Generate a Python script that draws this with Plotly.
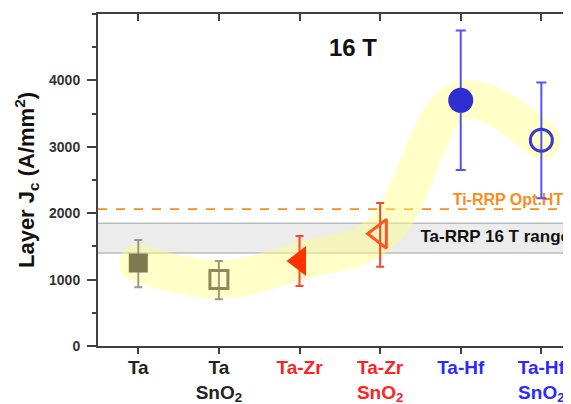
import plotly.graph_objects as go

# ---- data ----
categories = ["Ta", "Ta\nSnO2", "Ta-Zr", "Ta-Zr\nSnO2", "Ta-Hf", "Ta-Hf\nSnO2"]
tick_labels = ["Ta", "Ta<br>SnO<sub>2</sub>", "Ta-Zr", "Ta-Zr<br>SnO<sub>2</sub>",
               "Ta-Hf", "Ta-Hf<br>SnO<sub>2</sub>"]
label_colors = ["#222222", "#222222", "#ff2222", "#ff2222", "#2a2aff", "#2a2aff"]
jc_values = [1250, 1000, 1280, 1690, 3700, 3100]
err_plus = [345, 280, 375, 465, 1050, 870]
err_minus = [365, 295, 375, 495, 1050, 875]
ti_rrp_opt_ht = 2060
ta_rrp_range = [1400, 1850]
y_ticks = [0, 1000, 2000, 3000, 4000]

symbols = ["square", "square-open", "triangle-left", "triangle-left-open",
           "circle", "circle-open"]
marker_colors = ["#7b7b4f", "#8a8a5a", "#ff3300", "#ff5522", "#2f2fd0", "#3a3ad0"]
err_colors = ["#9a9a80", "#9a9a80", "#ff4422", "#ff4422", "#5252ff", "#5252ff"]
cap_widths = [4, 4, 4, 4, 5, 5]
marker_sizes = [19, 18, 26, 25, 25, 22]

FONT = "Liberation Sans, Arial, sans-serif"
AX = "#404040"
xpos = list(range(1, len(categories) + 1))

fig = go.Figure()

# yellow highlight band through the points
fig.add_trace(go.Scatter(
    x=xpos, y=jc_values, mode="lines+markers",
    line=dict(color="#ffff82", width=38, shape="spline", smoothing=1.1),
    marker=dict(color="#ffff82", size=38),
    opacity=0.44, hoverinfo="skip", showlegend=False))

# reference line labels (drawn beneath the points/error bars)
fig.add_trace(go.Scatter(
    x=[4.9], y=[ti_rrp_opt_ht + 120], mode="text", text=["Ti-RRP Opt.HT"],
    textposition="middle right",
    textfont=dict(family=FONT, size=16, color="#ff8c1a", weight="bold"),
    hoverinfo="skip", showlegend=False))
fig.add_trace(go.Scatter(
    x=[4.5], y=[sum(ta_rrp_range) / 2], mode="text", text=["Ta-RRP 16 T range"],
    textposition="middle right",
    textfont=dict(family=FONT, size=17, color="#111111", weight="bold"),
    hoverinfo="skip", showlegend=False))

for i in range(len(categories)):
    open_m = symbols[i].endswith("open")
    fig.add_trace(go.Scatter(
        x=[xpos[i]], y=[jc_values[i]], mode="markers",
        error_y=dict(type="data", symmetric=False, array=[err_plus[i]],
                     arrayminus=[err_minus[i]], color=err_colors[i],
                     thickness=2, width=cap_widths[i]),
        marker=dict(symbol=symbols[i], size=marker_sizes[i],
                    color=marker_colors[i],
                    line=dict(color=marker_colors[i], width=3 if open_m else 0)),
        showlegend=False, hoverinfo="skip"))

# dummy trace for top axis
fig.add_trace(go.Scatter(x=[1], y=[0], xaxis="x2", mode="markers",
                         marker=dict(opacity=0), hoverinfo="skip", showlegend=False))

shapes = [
    dict(type="rect", xref="paper", x0=0, x1=1, yref="y",
         y0=ta_rrp_range[0], y1=ta_rrp_range[1],
         fillcolor="#ececec", line=dict(width=0), layer="below"),
    dict(type="line", xref="paper", x0=0, x1=1, yref="y",
         y0=ta_rrp_range[0], y1=ta_rrp_range[0],
         line=dict(color="#bdbdbd", width=1.5), layer="below"),
    dict(type="line", xref="paper", x0=0, x1=1, yref="y",
         y0=ta_rrp_range[1], y1=ta_rrp_range[1],
         line=dict(color="#bdbdbd", width=1.5), layer="below"),
    dict(type="line", xref="paper", x0=0, x1=1, yref="y",
         y0=ti_rrp_opt_ht, y1=ti_rrp_opt_ht,
         line=dict(color="#ff8c1a", width=1.8, dash="dash"), layer="below"),
]

ticktext = [f"<span style='color:{c}'>{t}</span>" for t, c in zip(tick_labels, label_colors)]

fig.update_layout(
    width=563, height=396,
    margin=dict(l=90, r=0, t=6, b=58, pad=0, autoexpand=False),
    paper_bgcolor="white", plot_bgcolor="white",
    font=dict(family=FONT, color="#222222"),
    shapes=shapes,
    annotations=[dict(x=3.66, y=4500, xref="x", yref="y", text="16 T",
                      showarrow=False,
                      font=dict(family=FONT, size=24, color="#111111", weight="bold"))],
    xaxis=dict(range=[0.5, 6.368], tickvals=xpos, ticktext=ticktext,
               ticks="outside", ticklen=6, tickwidth=2, tickcolor=AX,
               showline=True, linewidth=2, linecolor=AX,
               showgrid=False, zeroline=False, automargin=False,
               ticklabelstandoff=-3,
               tickfont=dict(family=FONT, size=19, weight="bold")),
    xaxis2=dict(range=[0.5, 6.368], overlaying="x", side="top",
                tickvals=xpos, showticklabels=False,
                ticks="inside", ticklen=7, tickwidth=2, tickcolor=AX,
                showline=True, linewidth=2, linecolor=AX,
                showgrid=False, zeroline=False, automargin=False),
    yaxis=dict(range=[0, 5000], tickvals=y_ticks,
               ticks="outside", ticklen=9, tickwidth=2, tickcolor=AX,
               minor=dict(dtick=500, ticks="outside", ticklen=4, tickwidth=2, tickcolor=AX),
               showline=True, linewidth=2, linecolor=AX,
               showgrid=False, zeroline=False, automargin=False,
               ticklabelstandoff=4,
               tickfont=dict(family=FONT, size=14, color="#333333", weight="bold"),
               title=dict(text="Layer J<sub>c</sub> (A/mm<sup>2</sup>)", standoff=8,
                          font=dict(family=FONT, size=22, color="#111111", weight="bold"))),
)

fig.write_html("out.html")
